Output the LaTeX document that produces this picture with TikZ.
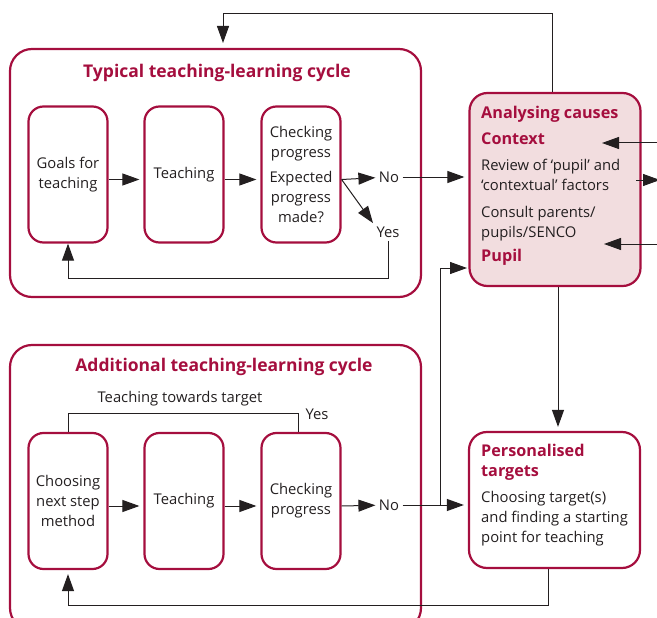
\documentclass[tikz,border=0pt]{standalone}
\usepackage{fontspec}
\setmainfont{Open Sans}
\usetikzlibrary{arrows.meta}
\definecolor{crimson}{RGB}{165,14,62}
\definecolor{blush}{RGB}{242,221,223}
\definecolor{ink}{RGB}{35,31,32}
\newcommand\hdfont{\color{crimson}\fontsize{16.2}{20}\selectfont\bfseries}
\tikzset{
	stepbox/.style={draw=crimson,line width=2.2pt,rounded corners=15pt,minimum width=79pt,minimum height=136pt,align=center,inner sep=1pt},
	sidebox/.style={draw=crimson,line width=2.2pt,rounded corners=18pt,minimum width=171pt},
	frame/.style={draw=crimson,line width=2.2pt,rounded corners=22pt},
	flow/.style={-{Triangle[length=17pt,width=12pt]},line width=1pt,draw=ink},
	head/.style={text=crimson,font=\fontsize{17.5}{21}\selectfont\bfseries},
}
\begin{document}
	\begin{tikzpicture}[x=1pt,y=-1pt,font=\fontsize{14.8}{20}\selectfont,text=ink]
		\useasboundingbox (0,0) rectangle (657,618);
		% the two cycles
		\draw[frame] (10,49) rectangle (421,297);
		\draw[frame] (10,345) rectangle (421,630);
		\node[head] (typtitle) at (217,73) {Typical teaching-learning cycle};
		\node[head] (addtitle) at (224,367) {Additional teaching-learning cycle};
		% typical cycle
		\node[stepbox] (goals) at (68,174.5) {Goals for\\teaching};
		\node[stepbox] (teach1) at (184,174.5) {Teaching};
		\node[stepbox] (check1) at (301,174.5) {Checking\\progress\\[5pt]Expected\\progress\\made?};
		\node (no1) at (389,177) {No};
		\node (yes1) at (388,232) {Yes};
		% additional cycle
		\node[stepbox] (choose) at (68,501) {Choosing\\next step\\method};
		\node[stepbox] (teach2) at (184,501) {Teaching};
		\node[stepbox] (check2) at (301,501) {Checking\\progress};
		\node (no2) at (389,505) {No};
		\node[anchor=west] (yes2) at (302,414) {Yes};
		\node (toward) at (180,399) {Teaching towards target};
		% side boxes
		\node[sidebox,fill=blush,minimum height=193pt] (causes) at (555,189.5) {};
		\node[anchor=north west,align=left,inner sep=0pt] (causestext) at (481,106) {%
			{\hdfont Analysing causes}\\[6pt]
			{\hdfont Context}\\[6pt]
			Review of ‘pupil’ and\\‘contextual’ factors\\[7pt]
			Consult parents/\\pupils/SENCO\\[4pt]
			{\hdfont Pupil}};
		\node[sidebox,minimum height=136pt] (personal) at (554.5,500) {};
		\node[anchor=north west,align=left,inner sep=0pt] (personaltext) at (481,444) {%
			{\hdfont Personalised}\\{\hdfont targets}\\[6pt]
			Choosing target(s)\\and finding a starting\\point for teaching};
		% connectors
		\coordinate (split) at (440,505);
		\coordinate (intocauses) at (467,268);
		\coordinate (ctxin) at (660,143);
		\coordinate (ctxend) at (602,143);
		\coordinate (pupin) at (660,244);
		\coordinate (pupend) at (604,244);
		\coordinate (outstart) at (636,180);
		\coordinate (outend) at (660,180);
		\draw[flow,shorten >=4pt] ([yshift=-5pt]goals.east) -- ([yshift=-5pt]teach1.west);
		\draw[flow,shorten >=4pt] ([yshift=-5pt]teach1.east) -- ([yshift=-5pt]check1.west);
		\draw[flow] ([yshift=-5pt]check1.east) -- (no1);
		\draw[flow] ([yshift=-5pt]check1.east) -- (yes1.north west);
		\draw[flow,shorten >=4pt] (no1) -- (causes.west |- no1);
		\draw[flow] (yes1.south) |- (68,278) -- (goals.south);
		\draw[flow,shorten >=4pt] ([yshift=-5pt]choose.east) -- ([yshift=-5pt]teach2.west);
		\draw[flow,shorten >=4pt] ([yshift=-5pt]teach2.east) -- ([yshift=-5pt]check2.west);
		\draw[flow] ([yshift=-5pt]check2.east) -- (no2);
		\draw[flow,shorten >=4pt] (no2) -- (personal.west |- no2);
		\draw[flow] (split) |- (intocauses);
		\draw[draw=ink,line width=1pt] ([xshift=-3pt]check2.north) |- (68,413);
		\draw[draw=ink,line width=1pt] (choose.north) -- (68,413);
		\draw[flow] ([xshift=-3pt]causes.north) |- (223,14) -- (223,43);
		\draw[flow,shorten >=4pt] ([xshift=3pt]causes.south) -- ([xshift=3pt]causes.south |- personal.north);
		\draw[flow,shorten >=4pt] ([xshift=-6pt]personal.south) |- (68,605) -- (choose.south);
		\draw[flow] (ctxin) -- (ctxend);
		\draw[flow] (pupin) -- (pupend);
		\draw[flow] (outstart) -- (outend);
	\end{tikzpicture}
\end{document}
